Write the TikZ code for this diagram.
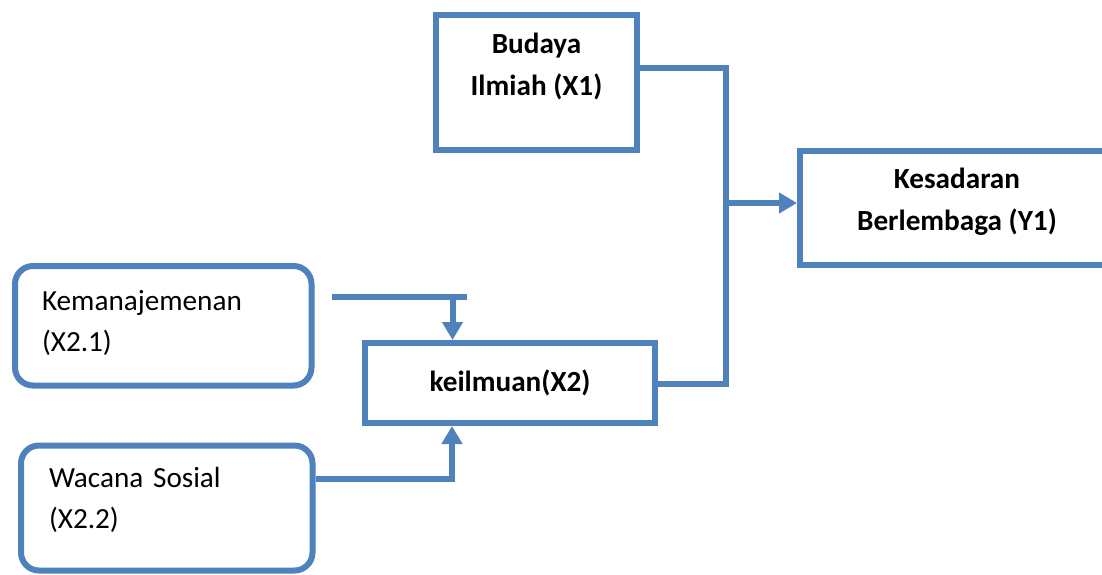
\documentclass[tikz,border=0pt]{standalone}
\usepackage{fontspec}
\setmainfont{Carlito}
\usetikzlibrary{positioning,arrows.meta,calc}
\definecolor{boxblue}{RGB}{79,129,189}

\tikzset{
	box/.style={rectangle, draw=boxblue, line width=3pt, align=center, font=\bfseries\fontsize{14.6}{20.8}\selectfont},
	rbox/.style={rectangle, draw=boxblue, line width=3pt, rounded corners=9pt, align=left, font=\fontsize{14.6}{20.8}\selectfont},
	conn/.style={draw=boxblue, line width=3pt},
	arr/.style={conn, -{Triangle[width=10pt,length=9pt]}}
}

\begin{document}
\begin{tikzpicture}[x=0.5pt, y=-0.5pt]
\clip (0,0) rectangle (1102,574);

\node[box, minimum width=100.5pt, minimum height=67.5pt, text height=30pt, text depth=17.5pt]	(budaya)	at (536.5,82.5)	{Budaya\\Ilmiah (X1)};
\node[box, minimum width=157pt, minimum height=57pt, text height=30pt, text depth=8pt]	(kesadaran)	at (957,208)	{Kesadaran\\Berlembaga (Y1)};
\node[box, minimum width=145pt, minimum height=40pt]	(keilmuan)	at (510,383)	{keilmuan(X2)};
\node[rbox, inner xsep=13.5pt, text width=121.25pt, minimum height=59.75pt, text height=10pt, text depth=25.75pt]	(kem)	at (163.25,325.75)	{Kemanajemenan\\(X2.1)};
\node[rbox, inner xsep=14pt, text width=117.75pt, minimum height=62.5pt, text height=10pt, text depth=31pt]	(wacana)	at (166.75,508)	{Wacana Sosial\\(X2.2)};

\coordinate	(jtop)	at (726,68);
\coordinate	(jmid)	at (726,203);
\coordinate	(jbot)	at (726,384);
\coordinate	(kA)	at (332,297);
\coordinate	(kB)	at (467,297);
\coordinate	(kC)	at (452.5,297);
\coordinate	(wB)	at (452,479);

\draw[conn] (budaya.east |- jtop) -- (jtop) -- (jbot) -- (keilmuan.east |- jbot);
\draw[arr] (jmid) -- (jmid -| kesadaran.west);
\draw[conn] (kA) -- (kB);
\draw[arr] (kC) -- (kC |- keilmuan.north);
\draw[arr] (wacana.east |- wB) -- (wB) -- (wB |- keilmuan.south);
\end{tikzpicture}
\end{document}
